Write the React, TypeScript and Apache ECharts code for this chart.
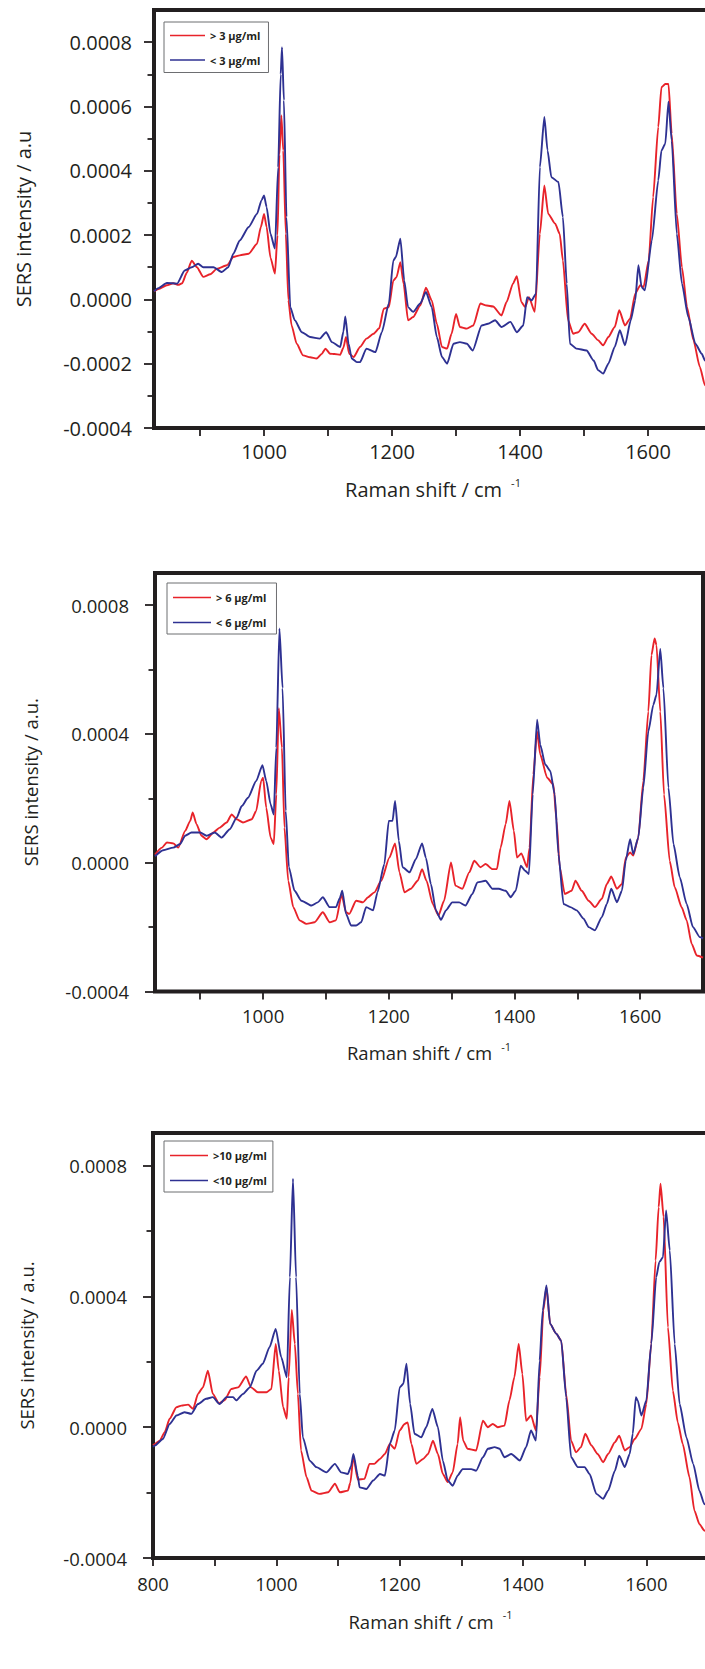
import React, { useEffect, useRef } from "react";
import * as echarts from "echarts";

// Intensity values are given in units of 1e-4 a.u.
const UNIT = 1e-4;

// ---------- Panel 1 (3 µg/ml) ----------
const p1Names = ["> 3 µg/ml", "< 3 µg/ml"];
const p1Red: [number, number][] = [[828,0.25],[835,0.32],[848,0.44],[858,0.5],[866,0.45],[872,0.5],[879,0.82],[887,1.2],[895,1.0],[905,0.7],[916,0.78],[926,0.95],[942,1.06],[952,1.32],[962,1.37],[976,1.42],[989,1.73],[995,2.25],[1000,2.66],[1004,2.25],[1010,1.3],[1017,0.8],[1021,2.0],[1024,4.5],[1027,5.72],[1030,4.63],[1034,2.04],[1038,-0.03],[1043,-0.81],[1051,-1.38],[1061,-1.74],[1072,-1.8],[1082,-1.84],[1090,-1.7],[1096,-1.53],[1103,-1.69],[1110,-1.7],[1119,-1.72],[1124,-1.5],[1128,-1.17],[1133,-1.69],[1140,-1.79],[1150,-1.48],[1160,-1.22],[1171,-1.07],[1180,-0.9],[1187,-0.29],[1195,-0.24],[1202,0.59],[1207,0.69],[1213,1.16],[1218,0.49],[1225,-0.65],[1233,-0.55],[1244,-0.19],[1253,0.36],[1262,-0.03],[1270,-0.76],[1278,-1.48],[1286,-1.53],[1293,-1.07],[1300,-0.45],[1306,-0.86],[1317,-0.91],[1327,-0.81],[1338,-0.13],[1348,-0.19],[1358,-0.22],[1371,-0.5],[1379,-0.08],[1389,0.49],[1395,0.72],[1402,-0.08],[1408,-0.24],[1414,0.07],[1423,-0.39],[1431,2.04],[1438,3.54],[1444,2.66],[1455,2.35],[1462,2.04],[1467,1.21],[1475,-0.65],[1483,-1.07],[1491,-1.02],[1501,-0.76],[1512,-1.07],[1522,-1.27],[1530,-1.43],[1538,-1.17],[1548,-0.86],[1555,-0.34],[1564,-0.81],[1572,-0.6],[1580,0.18],[1588,0.44],[1593,0.38],[1601,1.21],[1608,3.18],[1616,5.36],[1621,6.6],[1627,6.7],[1632,6.7],[1637,5.15],[1645,2.66],[1653,1.0],[1661,-0.24],[1671,-1.27],[1681,-2.1],[1689,-2.67],[1700,-3.0]];
const p1Blue: [number, number][] = [[828,0.25],[835,0.35],[848,0.51],[864,0.49],[876,0.9],[887,1.0],[897,1.11],[905,1.0],[921,1.0],[934,0.85],[944,1.0],[952,1.42],[962,1.83],[976,2.25],[989,2.66],[996,3.08],[1000,3.23],[1004,2.87],[1010,2.04],[1017,1.58],[1022,4.1],[1026,7.0],[1028,7.84],[1031,6.19],[1035,2.56],[1041,-0.24],[1048,-0.65],[1059,-1.02],[1072,-1.17],[1087,-1.22],[1097,-1.02],[1106,-1.33],[1119,-1.48],[1124,-1.0],[1127,-0.53],[1132,-1.38],[1137,-1.84],[1145,-1.95],[1150,-1.95],[1160,-1.53],[1174,-1.64],[1184,-1.02],[1195,-0.13],[1202,1.21],[1206,1.32],[1213,1.89],[1219,0.59],[1225,-0.24],[1233,-0.39],[1244,-0.13],[1253,0.23],[1262,-0.24],[1270,-1.17],[1278,-1.79],[1286,-2.0],[1296,-1.38],[1306,-1.33],[1317,-1.38],[1326,-1.59],[1340,-0.81],[1350,-0.76],[1361,-0.65],[1371,-0.86],[1385,-0.7],[1395,-1.02],[1405,-0.81],[1411,0.07],[1418,-0.03],[1425,0.18],[1431,4.11],[1438,5.67],[1443,4.63],[1449,3.8],[1460,3.65],[1467,2.56],[1473,0.49],[1478,-1.38],[1488,-1.53],[1504,-1.59],[1515,-1.9],[1522,-2.2],[1530,-2.31],[1538,-2.0],[1548,-1.48],[1556,-0.96],[1564,-1.43],[1573,-0.65],[1580,-0.03],[1585,1.06],[1590,0.38],[1595,0.28],[1606,1.83],[1616,3.7],[1621,4.63],[1627,4.84],[1632,6.15],[1637,4.94],[1645,2.04],[1653,0.49],[1663,-0.55],[1674,-1.38],[1684,-1.69],[1689,-1.9],[1700,-2.2]];

// ---------- Panel 2 (6 µg/ml) ----------
const p2Names = ["> 6 µg/ml", "< 6 µg/ml"];
const p2Red: [number, number][] = [[828,0.25],[839,0.47],[847,0.63],[857,0.6],[865,0.47],[876,0.99],[884,1.3],[888,1.56],[894,1.2],[902,0.84],[910,0.73],[921,0.94],[931,1.09],[942,1.25],[950,1.5],[958,1.35],[968,1.25],[982,1.35],[989,1.61],[997,2.54],[1000,2.64],[1005,1.71],[1012,0.78],[1017,0.58],[1021,2.12],[1025,4.8],[1030,3.57],[1034,1.09],[1040,-0.56],[1048,-1.38],[1058,-1.79],[1069,-1.9],[1082,-1.85],[1095,-1.54],[1106,-1.85],[1116,-1.79],[1125,-1.0],[1132,-1.54],[1137,-1.59],[1148,-1.18],[1159,-1.23],[1167,-1.07],[1177,-0.92],[1188,-0.56],[1201,0.16],[1210,0.6],[1217,-0.3],[1225,-0.92],[1235,-0.81],[1246,-0.56],[1253,-0.2],[1260,-0.56],[1270,-1.28],[1279,-1.64],[1288,-1.18],[1299,0.01],[1306,-0.71],[1317,-0.81],[1328,-0.3],[1336,0.06],[1346,-0.14],[1354,-0.04],[1365,-0.2],[1372,-0.2],[1378,0.47],[1386,1.2],[1392,1.92],[1399,0.99],[1404,0.16],[1411,0.29],[1420,-0.14],[1424,0.47],[1430,2.74],[1436,4.08],[1441,3.36],[1452,2.64],[1462,2.43],[1467,1.3],[1472,-0.14],[1480,-0.97],[1491,-0.87],[1497,-0.56],[1507,-0.87],[1518,-1.18],[1528,-1.38],[1539,-1.12],[1547,-0.66],[1554,-0.43],[1563,-0.81],[1571,-0.66],[1577,0.16],[1584,0.32],[1589,0.22],[1597,0.78],[1605,2.54],[1613,4.7],[1618,6.45],[1623,6.97],[1626,6.76],[1632,4.7],[1638,2.12],[1647,0.06],[1655,-0.76],[1666,-1.38],[1674,-1.79],[1682,-2.52],[1690,-2.88],[1700,-2.95]];
const p2Blue: [number, number][] = [[828,0.2],[841,0.39],[857,0.47],[868,0.58],[876,0.84],[886,0.94],[900,0.94],[910,0.84],[923,0.94],[934,0.78],[947,1.04],[958,1.4],[966,1.76],[976,2.02],[989,2.54],[999,3.03],[1005,2.54],[1012,1.81],[1017,1.5],[1021,3.57],[1026,7.28],[1031,5.42],[1036,1.61],[1041,-0.14],[1050,-0.87],[1061,-1.18],[1077,-1.33],[1087,-1.23],[1095,-1.07],[1106,-1.38],[1116,-1.38],[1122,-1.1],[1126,-0.87],[1132,-1.59],[1140,-1.95],[1148,-1.95],[1156,-1.85],[1164,-1.38],[1175,-1.48],[1182,-0.92],[1193,-0.04],[1200,1.3],[1206,1.3],[1210,1.92],[1216,0.68],[1222,-0.14],[1233,-0.3],[1243,0.11],[1253,0.6],[1259,0.16],[1267,-0.66],[1275,-1.48],[1283,-1.77],[1291,-1.48],[1301,-1.23],[1312,-1.23],[1322,-1.33],[1333,-0.97],[1341,-0.61],[1354,-0.56],[1365,-0.81],[1375,-0.81],[1386,-0.87],[1394,-1.07],[1402,-0.87],[1410,-0.09],[1417,-0.25],[1423,-0.35],[1429,2.12],[1436,4.44],[1441,3.67],[1449,3.05],[1457,2.85],[1464,2.12],[1470,0.27],[1478,-1.28],[1489,-1.38],[1499,-1.48],[1510,-1.74],[1518,-2.0],[1528,-2.1],[1539,-1.69],[1547,-1.28],[1554,-0.81],[1563,-1.23],[1571,-0.87],[1577,0.06],[1584,0.73],[1589,0.27],[1597,0.78],[1605,2.33],[1613,4.08],[1621,4.91],[1626,5.22],[1632,6.64],[1637,5.42],[1645,2.33],[1653,0.58],[1663,-0.45],[1674,-1.28],[1684,-2.0],[1695,-2.31],[1700,-2.35]];

// ---------- Panel 3 (10 µg/ml) ----------
const p3Names = [">10 µg/ml", "<10 µg/ml"];
const p3Red: [number, number][] = [[800,-0.55],[803,-0.51],[811,-0.41],[819,-0.15],[827,0.26],[838,0.61],[846,0.66],[857,0.69],[865,0.56],[873,1.02],[881,1.22],[889,1.73],[897,1.02],[907,0.73],[916,0.82],[927,1.17],[938,1.22],[951,1.55],[959,1.22],[970,1.07],[984,1.07],[992,1.17],[999,2.55],[1004,1.73],[1011,0.61],[1017,0.26],[1020,1.53],[1025,3.59],[1030,2.55],[1035,1.02],[1040,-0.71],[1049,-1.53],[1057,-1.94],[1070,-2.04],[1084,-1.99],[1095,-1.73],[1103,-1.99],[1116,-1.94],[1120,-1.7],[1125,-0.9],[1132,-1.6],[1143,-1.58],[1151,-1.12],[1159,-1.12],[1168,-0.97],[1176,-0.82],[1184,-0.51],[1192,-0.66],[1200,-0.1],[1208,0.1],[1213,0.15],[1219,-0.51],[1227,-1.12],[1238,-0.97],[1246,-0.82],[1254,-0.41],[1262,-0.82],[1270,-1.43],[1278,-1.68],[1286,-1.38],[1294,-0.51],[1298,0.31],[1303,-0.41],[1310,-0.66],[1324,-0.71],[1335,0.2],[1343,0.0],[1351,0.1],[1359,0.0],[1370,0.05],[1378,0.82],[1386,1.53],[1393,2.55],[1399,1.63],[1405,0.2],[1413,0.36],[1421,-0.1],[1427,1.53],[1433,3.57],[1438,4.29],[1444,3.16],[1454,2.86],[1462,2.65],[1470,1.02],[1478,-0.41],[1486,-0.77],[1494,-0.61],[1501,-0.2],[1511,-0.56],[1521,-0.82],[1530,-1.07],[1538,-0.82],[1549,-0.46],[1556,-0.26],[1565,-0.71],[1573,-0.61],[1581,-0.36],[1592,-0.05],[1600,0.71],[1608,2.55],[1615,5.1],[1620,6.73],[1623,7.45],[1628,6.43],[1635,3.06],[1643,1.12],[1651,0.15],[1659,-0.51],[1670,-1.53],[1678,-2.55],[1686,-2.96],[1694,-3.16],[1700,-3.2]];
const p3Blue: [number, number][] = [[800,-0.6],[803,-0.56],[816,-0.36],[827,0.1],[838,0.36],[851,0.46],[862,0.41],[873,0.71],[886,0.87],[897,0.92],[908,0.71],[919,0.92],[930,0.92],[935,0.82],[946,1.02],[957,1.22],[968,1.73],[978,1.94],[989,2.45],[999,3.01],[1008,2.14],[1017,1.53],[1022,4.59],[1027,7.6],[1032,4.59],[1038,1.02],[1043,-0.31],[1054,-1.02],[1065,-1.22],[1081,-1.38],[1095,-1.12],[1105,-1.38],[1116,-1.43],[1121,-1.2],[1125,-0.82],[1132,-1.48],[1135,-1.84],[1146,-1.89],[1157,-1.63],[1168,-1.43],[1176,-1.48],[1184,-0.51],[1192,-0.1],[1200,1.22],[1206,1.33],[1211,1.94],[1217,0.71],[1224,-0.2],[1235,-0.31],[1243,0.0],[1253,0.56],[1262,0.0],[1270,-1.02],[1278,-1.63],[1286,-1.79],[1294,-1.48],[1302,-1.28],[1316,-1.28],[1324,-1.33],[1335,-0.92],[1343,-0.66],[1354,-0.61],[1362,-0.66],[1370,-0.92],[1381,-0.82],[1395,-1.02],[1405,-0.61],[1413,-0.1],[1421,-0.41],[1427,2.04],[1432,3.57],[1438,4.34],[1444,3.16],[1454,2.86],[1462,2.65],[1470,0.92],[1478,-0.92],[1489,-1.22],[1500,-1.22],[1508,-1.43],[1519,-2.04],[1530,-2.19],[1538,-1.94],[1549,-1.33],[1556,-0.87],[1565,-1.22],[1573,-0.82],[1578,-0.2],[1583,0.92],[1586,0.82],[1592,0.36],[1600,0.82],[1608,2.55],[1616,4.59],[1621,5.05],[1627,5.2],[1632,6.63],[1638,5.41],[1646,2.55],[1654,0.71],[1665,-0.31],[1676,-1.12],[1686,-1.94],[1694,-2.35],[1700,-2.4]];

// ---------- Axis ticks / labels ----------
const yLabels1 = [-0.0004, -0.0002, 0, 0.0002, 0.0004, 0.0006, 0.0008];
const yMinor1 = [-0.0003, -0.0001, 0.0001, 0.0003, 0.0005, 0.0007];
const yLabels23 = [-0.0004, 0, 0.0004, 0.0008];
const yMinor23 = [-0.0002, 0.0002, 0.0006];
const xTicks12 = [900, 1000, 1100, 1200, 1300, 1400, 1500, 1600];
const xLabels12 = [1000, 1200, 1400, 1600];
const xTicks3 = [800, 900, 1000, 1100, 1200, 1300, 1400, 1500, 1600];
const xLabels3 = [800, 1000, 1200, 1400, 1600];
const xTitle = "Raman shift / cm";
const yTitles = ["SERS intensity / a.u", "SERS intensity / a.u.", "SERS intensity / a.u."];

const RED = "#e8232a";
const BLUE = "#2e3192";
const INK = "#231f20";
const FONT = "'Open Sans', 'Noto Sans', sans-serif";

function buildOption() {
  const panels = [
    {
      names: p1Names, red: p1Red, blue: p1Blue, xMin: 828,
      yLabels: yLabels1, yMinor: yMinor1, xTicks: xTicks12, xLabels: xLabels12,
      grid: { left: 154, top: 10, width: 558, height: 418 },
      fs: 20, yMargin: 22, xMargin: 13, yNameGap: 119, xNameGap: 49,
      legend: { left: 164, top: 22, itemWidth: 35, padding: [8, 8, 7, 6], itemGap: 13.5 },
    },
    {
      names: p2Names, red: p2Red, blue: p2Blue, xMin: 828,
      yLabels: yLabels23, yMinor: yMinor23, xTicks: xTicks12, xLabels: xLabels12,
      grid: { left: 155, top: 573, width: 548, height: 418.5 },
      fs: 18.5, yMargin: 26, xMargin: 14, yNameGap: 113, xNameGap: 49,
      legend: { left: 167, top: 583, itemWidth: 38, padding: [9, 10, 6, 6], itemGap: 14 },
    },
    {
      names: p3Names, red: p3Red, blue: p3Blue, xMin: 800,
      yLabels: yLabels23, yMinor: yMinor23, xTicks: xTicks3, xLabels: xLabels3,
      grid: { left: 153, top: 1133, width: 555, height: 425 },
      fs: 18.5, yMargin: 26, xMargin: 16, yNameGap: 115, xNameGap: 51,
      legend: { left: 164, top: 1141, itemWidth: 38, padding: [9, 6, 6, 6], itemGap: 14 },
    },
  ];

  const grid: any[] = [];
  const xAxis: any[] = [];
  const yAxis: any[] = [];
  const yMinorAxes: any[] = [];
  const series: any[] = [];
  const legend: any[] = [];

  panels.forEach((p, i) => {
    grid.push({
      ...p.grid,
      show: true,
      borderColor: INK,
      borderWidth: 4,
      backgroundColor: "transparent",
      containLabel: false,
    });
    xAxis.push({
      type: "value",
      gridIndex: i,
      position: "bottom",
      min: p.xMin,
      max: 1700,
      axisLine: { show: false, onZero: false },
      splitLine: { show: false },
      axisTick: { show: true, inside: false, length: 8, customValues: p.xTicks, lineStyle: { color: INK, width: 1.8 } },
      axisLabel: {
        customValues: p.xLabels,
        margin: p.xMargin,
        fontSize: p.fs,
        fontFamily: FONT,
        color: INK,
        formatter: (v: number) => String(v),
      },
      name: xTitle + "{sup|-1}",
      nameLocation: "middle",
      nameGap: p.xNameGap,
      nameTextStyle: {
        fontSize: p.fs,
        fontFamily: FONT,
        color: INK,
        lineHeight: 24,
        rich: {
          sup: { fontSize: 11, fontFamily: FONT, color: INK, verticalAlign: "top", lineHeight: 12, padding: [0, 0, 0, 9] },
        },
      },
    });
    yAxis.push({
      type: "value",
      gridIndex: i,
      position: "left",
      min: -0.0004,
      max: 0.0009,
      axisLine: { show: false, onZero: false },
      splitLine: { show: false },
      axisTick: { show: true, inside: false, length: 10, customValues: p.yLabels, lineStyle: { color: INK, width: 1.8 } },
      axisLabel: {
        customValues: p.yLabels,
        margin: p.yMargin,
        fontSize: p.fs,
        fontFamily: FONT,
        color: INK,
        formatter: (v: number) => v.toFixed(4),
      },
      name: yTitles[i],
      nameLocation: "middle",
      nameGap: p.yNameGap,
      nameRotate: 90,
      nameTextStyle: { fontSize: p.fs, fontFamily: FONT, color: INK, lineHeight: 24 },
    });
    yMinorAxes.push({
      type: "value",
      gridIndex: i,
      position: "left",
      offset: 0,
      min: -0.0004,
      max: 0.0009,
      axisLine: { show: false, onZero: false },
      splitLine: { show: false },
      axisLabel: { show: false },
      axisTick: { show: true, inside: false, length: 6.5, customValues: p.yMinor, lineStyle: { color: INK, width: 1.8 } },
    });
    const mk = (name: string, data: [number, number][], color: string) => ({
      type: "line",
      name,
      xAxisIndex: i,
      yAxisIndex: i,
      data: data.map(([x, y]) => [x, y * UNIT]),
      showSymbol: false,
      symbol: "none",
      smooth: 0.2,
      smoothMonotone: "x",
      lineStyle: { color, width: 1.9 },
      itemStyle: { color },
      clip: true,
    });
    series.push(mk(p.names[0], p.red, RED));
    series.push(mk(p.names[1], p.blue, BLUE));
    legend.push({
      data: p.names,
      orient: "vertical",
      left: p.legend.left,
      top: p.legend.top,
      itemWidth: p.legend.itemWidth,
      itemHeight: 1.5,
      itemGap: p.legend.itemGap,
      padding: p.legend.padding,
      icon: "rect",
      borderColor: "#6d6e71",
      borderWidth: 1,
      selectedMode: false,
      textStyle: { fontSize: 11, fontWeight: "bold", fontFamily: FONT, color: INK },
    });
  });

  return {
    animation: false,
    backgroundColor: "#ffffff",
    grid,
    xAxis,
    yAxis: [...yAxis, ...yMinorAxes],
    legend,
    series,
  };
}

export default function App() {
  const ref = useRef<HTMLDivElement>(null);
  useEffect(() => {
    if (!ref.current) return;
    const chart = echarts.init(ref.current, null, { renderer: "svg" });
    chart.setOption(buildOption() as any);
    return () => chart.dispose();
  }, []);
  return (
    <div style={{ position: "absolute", left: 0, top: 0, width: 705, height: 1669, overflow: "hidden", background: "#fff" }}>
      <div ref={ref} style={{ width: 720, height: 1669 }} />
    </div>
  );
}
